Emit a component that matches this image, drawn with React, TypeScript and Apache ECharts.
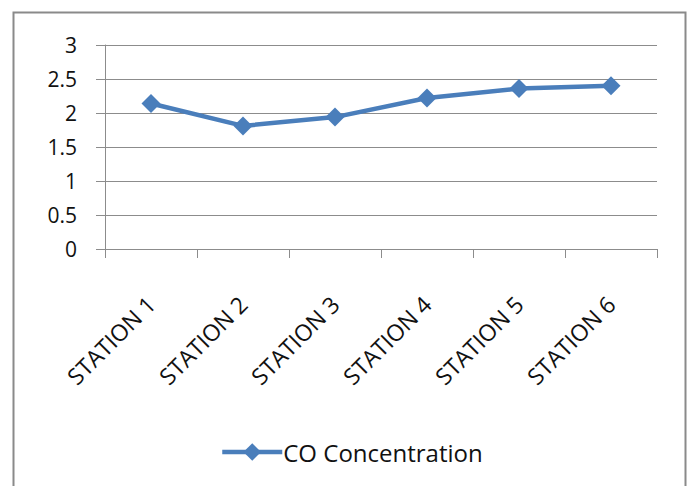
import React, { useEffect, useRef } from "react";
import * as echarts from "echarts";

const categories = ["STATION 1", "STATION 2", "STATION 3", "STATION 4", "STATION 5", "STATION 6"];
const coConcentration = [2.14, 1.81, 1.94, 2.22, 2.36, 2.4];
const seriesName = "CO Concentration";

const FONT = "'Open Sans', sans-serif";
const LINE_BLUE = "#4a7ebb";
const GRID_GRAY = "#8c8c8c";

export default function App() {
  const ref = useRef<HTMLDivElement>(null);

  useEffect(() => {
    if (!ref.current) return;
    const chart = echarts.init(ref.current, null, { renderer: "svg" });
    chart.setOption({
      animation: false,
      backgroundColor: "#ffffff",
      graphic: [
        {
          type: "rect",
          shape: { x: 13.5, y: 12.5, width: 672, height: 500 },
          style: { fill: "none", stroke: "#8a8a8a", lineWidth: 2 },
          silent: true,
        },
      ],
      grid: { left: 105, right: 33, top: 45, bottom: 237 },
      xAxis: {
        type: "category",
        data: categories,
        boundaryGap: true,
        axisLine: { show: true, lineStyle: { color: GRID_GRAY, width: 1 } },
        axisTick: { show: true, length: 9, lineStyle: { color: GRID_GRAY } },
        axisLabel: {
          rotate: 45,
          interval: 0,
          margin: 51,
          fontFamily: FONT,
          fontSize: 23,
          color: "#111",
        },
        splitLine: { show: false },
      },
      yAxis: {
        type: "value",
        min: 0,
        max: 3,
        interval: 0.5,
        axisLine: { show: true, lineStyle: { color: GRID_GRAY, width: 1 } },
        axisTick: { show: true, length: 9, lineStyle: { color: GRID_GRAY } },
        axisLabel: {
          margin: 28,
          fontFamily: FONT,
          fontSize: 21,
          color: "#111",
        },
        splitLine: { show: true, lineStyle: { color: GRID_GRAY, width: 1 } },
      },
      legend: {
        data: [seriesName],
        left: 215,
        top: 435,
        itemWidth: 60,
        itemHeight: 22,
        itemGap: 0,
        lineStyle: { width: 4.5 },
        textStyle: { fontFamily: FONT, fontSize: 24, color: "#111", padding: [0, 0, 0, -4] },
      },
      series: [
        {
          name: seriesName,
          type: "line",
          data: coConcentration,
          symbol: "diamond",
          symbolSize: 19,
          lineStyle: { color: LINE_BLUE, width: 4.5 },
          itemStyle: { color: LINE_BLUE },
        },
      ],
    });
    return () => chart.dispose();
  }, []);

  return (
    <div
      ref={ref}
      style={{ position: "fixed", left: 0, top: 0, width: 690, height: 486 }}
    />
  );
}
